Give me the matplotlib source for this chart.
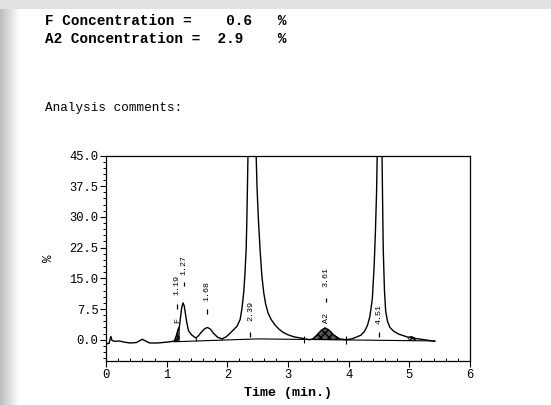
import numpy as np
import matplotlib
matplotlib.use("Agg")
import matplotlib.pyplot as plt
from matplotlib.ticker import MultipleLocator, FormatStrFormatter

# chromatogram trace (time in min, signal in %)
trace_t = [0.00, 0.05, 0.08, 0.10, 0.15, 0.22, 0.30, 0.40, 0.50, 0.56, 0.60, 0.65,
           0.72, 0.85, 1.00, 1.10, 1.13, 1.16, 1.19, 1.21, 1.23, 1.25, 1.27, 1.29,
           1.31, 1.33, 1.36, 1.41, 1.48, 1.52, 1.57, 1.62, 1.67, 1.72, 1.77, 1.84,
           1.91, 1.98, 2.04, 2.10, 2.16, 2.21, 2.24, 2.27, 2.29, 2.31, 2.32, 2.33,
           2.34, 2.355, 2.46, 2.475, 2.49, 2.51, 2.54, 2.57, 2.60, 2.63, 2.67, 2.72,
           2.78, 2.85, 2.92, 3.00, 3.10, 3.25, 3.35, 3.41, 3.48, 3.55, 3.61, 3.68,
           3.75, 3.85, 3.96, 4.05, 4.12, 4.20, 4.26, 4.31, 4.35, 4.39, 4.42, 4.44,
           4.46, 4.47, 4.485, 4.535, 4.55, 4.56, 4.57, 4.59, 4.61, 4.64, 4.68, 4.74,
           4.82, 4.92, 4.98, 5.04, 5.10, 5.25, 5.42]
trace_y = [-1.0, -0.9, 0.8, -0.2, -0.4, -0.3, -0.6, -0.8, -0.7, -0.2, 0.1, -0.3,
           -0.8, -0.8, -0.6, -0.4, -0.2, 1.0, 2.6, 3.2, 5.7, 8.0, 9.0, 8.2,
           6.3, 4.3, 2.2, 1.2, 0.4, 0.9, 1.8, 2.6, 3.0, 2.6, 1.6, 0.6,
           0.2, 0.7, 1.5, 2.4, 3.3, 4.9, 7.5, 11.5, 16.0, 22.0, 28.0, 36.0,
           45.0, 60.0, 60.0, 45.0, 37.0, 30.0, 21.9, 15.5, 11.5, 8.8, 6.6, 5.0,
           3.7, 2.6, 1.8, 1.2, 0.7, 0.3, 0.0, 0.2, 1.2, 2.3, 2.9, 2.3,
           1.2, 0.2, 0.0, 0.2, 0.6, 1.1, 2.0, 3.5, 5.7, 10.0, 18.0, 26.0,
           36.0, 45.0, 60.0, 60.0, 45.0, 33.0, 22.0, 12.0, 7.0, 4.5, 3.0, 2.1,
           1.4, 0.9, 0.6, 0.7, 0.3, 0.0, -0.4]

# integration baseline
base_t = [1.12, 2.50, 5.42]
base_y = [-0.5, 0.2, -0.3]

# peaks
peak_rt = [1.19, 1.27, 1.68, 2.39, 3.61, 4.51]
peak_names = ["F", "", "", "", "A2", ""]
shaded = [(1.13, 1.21), (3.41, 3.85), (4.96, 5.10)]
valley_drop = [1.48, 1.91]
valley_marks = [3.26, 3.96]

header_lines = ["F Concentration =    0.6   %",
                "A2 Concentration =  2.9    %"]

mono = "Liberation Mono"
plt.rcParams["font.family"] = [mono, "DejaVu Sans Mono"]

fig = plt.figure(figsize=(5.51, 4.05), dpi=100)

# scanned page background: grey border with shadow on the left
bg = np.ones((405, 551))
bg[:9, :] = 0.88
shade = np.linspace(0.74, 1.0, 20)
bg[9:, :20] = shade[None, :]
bgax = fig.add_axes([0, 0, 1, 1], zorder=-1)
bgax.imshow(bg, cmap="gray", vmin=0, vmax=1, aspect="auto")
bgax.axis("off")

fig.text(45 / 551, 1 - 21 / 405, header_lines[0], fontsize=10.4, weight="bold", va="center")
fig.text(45 / 551, 1 - 39 / 405, header_lines[1], fontsize=10.4, weight="bold", va="center")
fig.text(45 / 551, 1 - 108 / 405, "Analysis comments:", fontsize=9.1, va="center")

ax = fig.add_axes([106 / 551, 1 - 361 / 405, 364 / 551, 205.5 / 405])
ax.plot(trace_t, trace_y, color="black", lw=1.0, zorder=3)
ax.plot(base_t, base_y, color="black", lw=0.8, zorder=3)

tt = np.array(trace_t)
yy = np.array(trace_y)
bb = np.interp(tt, base_t, base_y)
for (a, b), fc in zip(shaded, ["#444444", "#555555", "#bbbbbb"]):
    m = (tt >= a) & (tt <= b)
    ax.fill_between(tt[m], bb[m], yy[m], facecolor=fc, edgecolor="black",
                    hatch="xxxx", lw=0.4, zorder=2)

ax.vlines(valley_drop, np.interp(valley_drop, base_t, base_y),
          np.interp(valley_drop, trace_t, trace_y), color="black", lw=0.8)
ax.vlines(valley_marks, np.interp(valley_marks, base_t, base_y) - 0.9,
          np.interp(valley_marks, base_t, base_y) + 0.9, color="black", lw=0.8)

# peak annotations (rotated, like the instrument printout)
time_y = [13.4, 18.2, 12.0, 6.9, 15.2, 6.3]
dash_y = [8.1, 13.6, 7.0, 1.2, 9.7, 1.2]
name_y = [4.6, 0, 0, 0, 5.2, 0]
x_off = [-0.015, 0.01, -0.02, -0.01, 0.02, -0.01]
for rt, nm, ty, dy, ny, dx in zip(peak_rt, peak_names, time_y, dash_y, name_y, x_off):
    x = rt + dx
    ax.text(x, ty, f"{rt:.2f}", rotation=90, fontsize=6, ha="center", va="center", zorder=4)
    ax.vlines(x, dy - 0.6, dy + 0.6, color="black", lw=0.9, zorder=4)
    if nm:
        ax.text(x, ny, nm, rotation=90, fontsize=6, ha="center", va="center", zorder=4)

ax.set_xlim(0, 6)
ax.set_ylim(-5.2, 45)
ax.xaxis.set_major_locator(MultipleLocator(1))
ax.xaxis.set_minor_locator(MultipleLocator(0.2))
ax.yaxis.set_major_locator(MultipleLocator(7.5))
ax.yaxis.set_minor_locator(MultipleLocator(1.5))
ax.yaxis.set_major_formatter(FormatStrFormatter("%.1f"))
ax.tick_params(axis="y", which="major", direction="out", length=4, width=0.8, labelsize=8.7, pad=1.5)
ax.tick_params(axis="y", which="minor", direction="out", length=2, width=0.7)
ax.tick_params(axis="x", which="major", direction="out", length=4, width=0.8, labelsize=8.7, pad=2)
ax.tick_params(axis="x", which="minor", direction="in", length=2, width=0.7)
for s in ax.spines.values():
    s.set_linewidth(0.9)

ax.set_xlabel("Time (min.)", fontsize=9.6, weight="bold", labelpad=4)
ax.set_ylabel("%", fontsize=9, rotation=90)
ax.yaxis.set_label_coords(-0.14, 0.5)

fig.savefig("out.png", dpi=100)
